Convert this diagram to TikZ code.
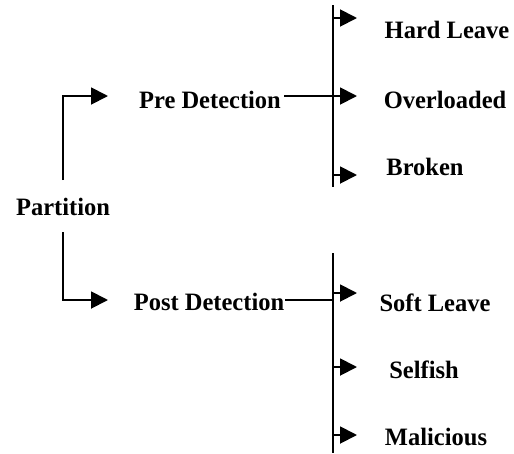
\documentclass[tikz,border=0pt]{standalone}
\usepackage{fontspec}
\setmainfont{Liberation Serif}
\usetikzlibrary{arrows.meta}
\begin{document}
\begin{tikzpicture}[x=1pt,y=-1pt,
  line/.style={line width=1.9pt},
  arr/.style={line, -{Triangle[length=17pt,width=17pt]}},
  label/.style={inner sep=0pt, font=\fontsize{25}{29}\selectfont\bfseries, xscale=0.98, anchor=center}]
  \useasboundingbox (0,0) rectangle (514,453);

  % labels
  \node[label] (part)    at (63,207)  {Partition};
  \node[label] (pre)     at (210,100) {Pre Detection};
  \node[label] (post)    at (209,302) {Post Detection};
  \node[label] (hard)    at (447,30)  {Hard Leave};
  \node[label] (over)    at (445,100) {Overloaded};
  \node[label] (broken)  at (425,167) {Broken};
  \node[label] (soft)    at (435,303) {Soft Leave};
  \node[label] (selfish) at (424,370) {Selfish};
  \node[label] (malic)   at (436,437) {Malicious};

  % bus bars
  \coordinate (busAtop) at (333,5);
  \coordinate (busAbot) at (333,187);
  \coordinate (busBtop) at (333,253);
  \coordinate (busBbot) at (333,453);
  \draw[line] (busAtop) -- (busAbot);
  \draw[line] (busBtop) -- (busBbot);

  % partition branches
  \coordinate (preTip)  at (108,96);
  \coordinate (postTip) at (108,300);
  \draw[arr] (63,180) |- (preTip);
  \draw[arr] (63,232) |- (postTip);

  % links into the bus bars
  \draw[line] ([xshift=3pt]pre.east |- 0,96) -- (333,96);
  \draw[line] ([xshift=1pt]post.east |- 0,300) -- (333,300);

  % arrows out of the bus bars
  \coordinate (tHard)  at (357,18);
  \coordinate (tOver)  at (357,96);
  \coordinate (tBrk)   at (357,175);
  \coordinate (tSoft)  at (357,293);
  \coordinate (tSelf)  at (357,367);
  \coordinate (tMal)   at (357,435);
  \draw[arr] (busAtop |- tHard) -- (tHard);
  \draw[arr] (busAtop |- tOver) -- (tOver);
  \draw[arr] (busAtop |- tBrk)  -- (tBrk);
  \draw[arr] (busBtop |- tSoft) -- (tSoft);
  \draw[arr] (busBtop |- tSelf) -- (tSelf);
  \draw[arr] (busBtop |- tMal)  -- (tMal);
\end{tikzpicture}
\end{document}
